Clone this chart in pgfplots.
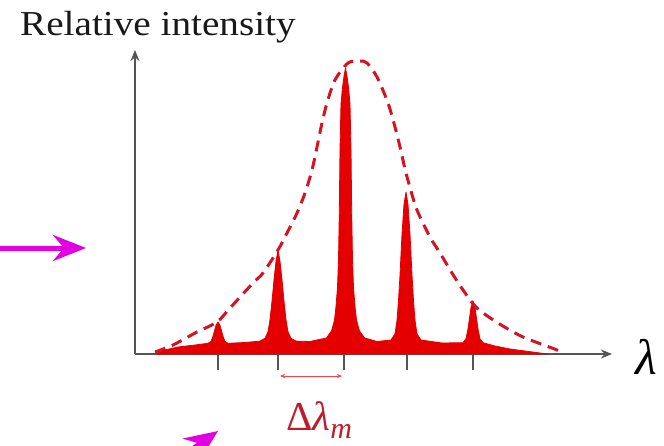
\documentclass[border=0pt]{standalone}
\usepackage{fontspec}
\setmainfont{Liberation Serif}
\usepackage{pgfplots}
\pgfplotsset{compat=1.18}
\usetikzlibrary{arrows.meta}

\definecolor{specred}{RGB}{228,0,0}
\definecolor{envred}{RGB}{212,20,36}
\definecolor{lblred}{RGB}{190,28,40}
\definecolor{axisgray}{RGB}{85,85,85}
\definecolor{arrmag}{RGB}{226,0,226}

\begin{document}
\begin{tikzpicture}
\useasboundingbox (0,0) rectangle (664pt,445pt);
\begin{axis}[
    x=1pt, y=1pt,
    at={(135pt,91pt)}, anchor=south west,
    xmin=135, xmax=612, ymin=0, ymax=304,
    enlargelimits=false,
    clip=false,
    axis lines=left,
    axis line style={-{Stealth[length=11pt,width=9pt,inset=3.5pt]}, line width=1.6pt, color=axisgray},
    xtick={218,278,344,407,473},
    xticklabels={},
    ytick=\empty,
    tick align=outside,
    major tick length=16pt,
    tick style={line width=1.6pt, color=axisgray},
]
% spectrum (fringes)
\addplot[fill=specred, draw=specred, line width=0.8pt, line join=round] coordinates {
    (155,0) (165,4) (178,7) (195,9)
    (208,10.7) (211,12.6) (213,17.7) (214.5,23.2) (216,28.7) (218,32) (220,28.7) (221.5,23.2) (223,17.7) (225,12.6) (228,10.7)
    (245,11.5)
    (260,12.9) (265,15.7) (268,22.2) (270,34.3) (272,52.9) (274,74.2) (276,92.8) (278,104) (280,92.8) (282,74.2) (284,52.9) (286,34.3) (288,22.2) (291,15.7) (296,12.9)
    (310,12.5)
    (326.5,16.1) (331.5,23) (334.5,33.9) (336,47.6) (337.5,66.8) (338.5,94.2) (339.2,135.3) (340,203.8) (341,250.4) (342.5,266.8) (344,277.8) (345.5,286) (347,277.8) (348.5,266.8) (350,250.4) (351,203.8) (351.8,135.3) (352.5,94.2) (353.5,66.8) (355,47.6) (356.5,33.9) (359.5,23) (364.5,16.1)
    (377,12.5)
    (391,14) (395,20.1) (397,33.7) (398.5,53.3) (400,79) (402,119.7) (404,149.9) (406,162) (408,149.9) (410,119.7) (412,79) (413.5,53.3) (415,33.7) (417,20.1) (421,14)
    (442,11)
    (463,11.3) (466,15.2) (468,25.1) (469.5,35.8) (471,46.6) (473,53) (475,46.6) (476.5,35.8) (478,25.1) (480,15.2) (483,11.3)
    (495,8) (510,5) (525,3) (540,1) (548,0)
} \closedcycle;
% envelope
\addplot[smooth, envred, line width=3pt, dash pattern=on 11pt off 7pt] coordinates {
    (155,2) (173,9) (197,22) (217,32) (230,46) (253,71) (263,81) (278,104)
    (287,121) (297,141) (305,161) (312,184) (317,207) (322,231) (327,251)
    (335,274) (348,291) (360,293) (367,291) (377,277) (388,251) (395,227)
    (400,207) (405,185) (409,170) (417,144) (430,117) (440,101) (452,81)
    (463,64) (477,46) (498,31) (523,17) (557,4) (562,0)
};
% labels and annotations
\node[anchor=base west, inner sep=0pt, text=black!90]
    at (axis cs:20,318) {\scalebox{1.12}[1]{\fontsize{35}{40}\selectfont Relative intensity}};
\node[anchor=base west, inner sep=0pt]
    at (axis cs:635,-20) {\fontsize{50}{54}\selectfont\itshape λ};
\draw[{Stealth[length=5pt,width=4pt]}-{Stealth[length=5pt,width=4pt]}, line width=0.9pt, color=red!75!white]
    (axis cs:280,-22) -- (axis cs:342,-22);
\node[anchor=base west, inner sep=0pt, text=lblred]
    at (axis cs:286,-76) {\fontsize{41}{46}\selectfont Δ\textit{λ}\raisebox{-8pt}{\fontsize{30}{34}\selectfont\textit{m}}};
\draw[arrmag, line width=5pt, -{Stealth[length=33pt,width=26pt,inset=11pt]}]
    (axis cs:-5,106) -- (axis cs:86,106);
\draw[arrmag, line width=5pt, -{Stealth[length=33pt,width=28pt,inset=11pt]}]
    (axis cs:150,-125) -- (axis cs:218,-77);
\end{axis}
\end{tikzpicture}
\end{document}
